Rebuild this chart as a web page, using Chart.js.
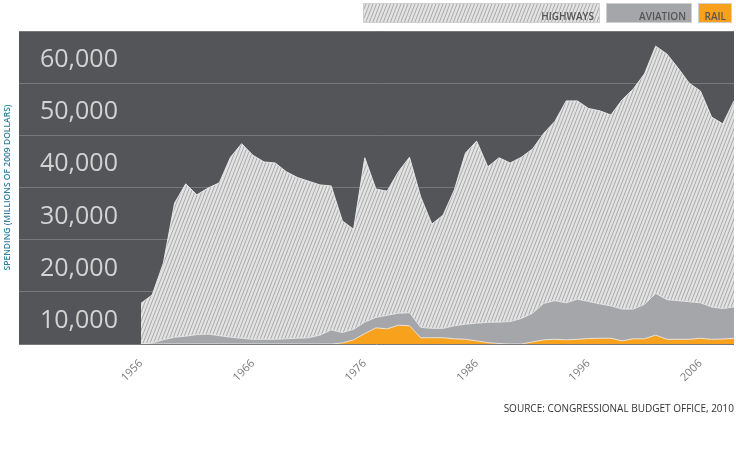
<!DOCTYPE html>
<html>
<head>
<meta charset="utf-8">
<script src="https://cdn.jsdelivr.net/npm/chart.js@4"></script>
<style>
  html, body { margin: 0; padding: 0; background: #fff; }
  #wrap { width: 736px; height: 463px; }
</style>
</head>
<body>
<div id="wrap"><canvas id="spendingChart" width="736" height="463"></canvas></div>
<script>
// years on the x axis
const years = [
  1956, 1957, 1958, 1959, 1960, 1961, 1962, 1963, 1964, 1965,
  1966, 1967, 1968, 1969, 1970, 1971, 1972, 1973, 1974, 1975,
  1976, 1977, 1978, 1979, 1980, 1981, 1982, 1983, 1984, 1985,
  1986, 1987, 1988, 1989, 1990, 1991, 1992, 1993, 1994, 1995,
  1996, 1997, 1998, 1999, 2000, 2001, 2002, 2003, 2004, 2005,
  2006, 2007, 2008, 2009
];

// spending, millions of 2009 dollars
const rail = [
  0, 0, 0, 0, 0, 0, 0, 0, 0, 0,
  0, 0, 0, 0, 0, 0, 0, 0, 200, 800,
  2000, 3100, 2900, 3600, 3500, 1200, 1200, 1200, 1000, 900,
  600, 250, 100, 0, 0, 400, 800, 900, 800, 900,
  1050, 1100, 1100, 600, 1000, 1000, 1700, 900, 900, 900,
  1100, 900, 950, 1100
];
const aviation = [
  0, 200, 800, 1300, 1500, 1800, 1900, 1600, 1300, 1100,
  900, 900, 900, 1000, 1100, 1200, 1700, 2700, 2000, 2000,
  2200, 2000, 2600, 2300, 2500, 2000, 1800, 1800, 2500, 2900,
  3400, 3900, 4100, 4300, 4900, 5500, 7000, 7400, 7100, 7700,
  7100, 6600, 6200, 6100, 5700, 6600, 8000, 7600, 7400, 7200,
  6800, 6200, 5850, 6000
];
const highways = [
  7800, 9200, 14700, 25700, 29200, 26800, 28000, 29300, 34500, 37300,
  35300, 34000, 33800, 32000, 30800, 30000, 28800, 27600, 21400, 19200,
  31500, 24600, 23800, 27100, 29800, 25000, 20000, 21700, 26000, 32800,
  34900, 29800, 31500, 30400, 30900, 31500, 32600, 34400, 38700, 38000,
  37000, 37000, 36600, 40100, 42200, 44200, 47400, 47100, 44600, 41900,
  40600, 36400, 35400, 39500
];

const seriesNames = ["RAIL", "AVIATION", "HIGHWAYS"];
const xTickYears = [1956, 1966, 1976, 1986, 1996, 2006];
const yTickValues = [0, 10000, 20000, 30000, 40000, 50000, 60000];
const yAxisTitle = "SPENDING (MILLIONS OF 2009 DOLLARS)";
const sourceNote = "SOURCE: CONGRESSIONAL BUDGET OFFICE, 2010";

const canvas = document.getElementById("spendingChart");
const ctx = canvas.getContext("2d");

function makeHatch() {
  const tile = document.createElement("canvas");
  tile.width = 7;
  tile.height = 18;
  const g = tile.getContext("2d");
  g.fillStyle = "#e3e3e3";
  g.fillRect(0, 0, 7, 18);
  g.strokeStyle = "#a9a9a9";
  g.lineWidth = 1;
  for (let k = -2; k <= 2; k++) {
    g.beginPath();
    g.moveTo(k * 3.5, 18);
    g.lineTo(k * 3.5 + 7, 0);
    g.stroke();
  }
  return ctx.createPattern(tile, "repeat");
}
const hatch = makeHatch();

function points(values) {
  return years.map((yr, i) => ({ x: yr, y: values[i] }));
}

// dark panel behind the plot
const plotBackground = {
  id: "plotBackground",
  beforeDraw(chart) {
    const a = chart.chartArea;
    chart.ctx.save();
    chart.ctx.fillStyle = "#545559";
    chart.ctx.fillRect(a.left, a.top, a.right - a.left, a.bottom - a.top);
    chart.ctx.restore();
  }
};

// legend as filled boxes with the name inside, top right
const boxLegend = {
  id: "boxLegend",
  afterDraw(chart) {
    const c = chart.ctx;
    const widths = [34, 86, 237];
    let right = 732;
    c.save();
    chart.data.datasets.forEach((ds, i) => {
      const w = widths[i];
      const left = right - w;
      c.fillStyle = ds.backgroundColor;
      c.fillRect(left, 3, w, 20);
      c.strokeStyle = "#d0d0d0";
      c.lineWidth = 1;
      c.strokeRect(left + 0.5, 3.5, w - 1, 19);
      c.fillStyle = "#555";
      c.font = '600 10px "Open Sans"';
      c.textAlign = "right";
      c.textBaseline = "alphabetic";
      c.fillText(ds.label, right - 6, 20);
      right = left - 6;
    });
    c.restore();
  }
};

const lineEdge = "rgba(238,238,238,0.9)";

new Chart(ctx, {
  type: "line",
  data: {
    datasets: [
      {
        label: seriesNames[0],
        data: points(rail),
        backgroundColor: "#f7a11c",
        borderColor: lineEdge,
        borderWidth: 1,
        fill: "origin"
      },
      {
        label: seriesNames[1],
        data: points(aviation),
        backgroundColor: "#a4a6a9",
        borderColor: lineEdge,
        borderWidth: 1,
        fill: "-1"
      },
      {
        label: seriesNames[2],
        data: points(highways),
        backgroundColor: hatch,
        borderColor: lineEdge,
        borderWidth: 1,
        fill: "-1"
      }
    ]
  },
  options: {
    responsive: false,
    animation: false,
    devicePixelRatio: 1,
    elements: { point: { radius: 0 }, line: { tension: 0 } },
    layout: { padding: { top: 31, right: 2, left: 0, bottom: 48 } },
    scales: {
      x: {
        type: "linear",
        min: 1945.1,
        max: 2009,
        afterBuildTicks(scale) {
          scale.ticks = xTickYears.map(v => ({ value: v }));
        },
        afterFit(scale) {
          scale.height = 50;
          scale.paddingLeft = 0;
          scale.paddingRight = 0;
        },
        grid: { display: false, drawTicks: false },
        border: { display: false },
        ticks: {
          autoSkip: false,
          minRotation: 45,
          maxRotation: 45,
          padding: 13,
          color: "#777",
          font: { family: "Open Sans", size: 11 },
          callback: v => String(v)
        }
      },
      y: {
        stacked: true,
        min: 0,
        max: 60000,
        afterBuildTicks(scale) {
          scale.ticks = yTickValues.map(v => ({ value: v }));
        },
        afterFit(scale) {
          scale.width = 19;
          scale.paddingTop = 0;
          scale.paddingBottom = 0;
        },
        grid: { color: "#77787c", lineWidth: 1, drawTicks: false },
        border: { display: false },
        ticks: {
          mirror: true,
          autoSkip: false,
          padding: 21,
          labelOffset: 29,
          color: "#d3d3d3",
          font: { family: "Open Sans", size: 25 },
          callback: v => (v === 0 ? "" : v.toLocaleString("en-US"))
        },
        title: {
          display: true,
          text: yAxisTitle,
          color: "#2f7fa0",
          font: { family: "Open Sans", size: 8.5, weight: "600" },
          padding: { top: 2, bottom: 0 }
        }
      }
    },
    plugins: {
      legend: { display: false },
      tooltip: { enabled: false },
      title: {
        display: true,
        position: "bottom",
        align: "end",
        text: sourceNote,
        color: "#333",
        font: { family: "Open Sans", size: 10, weight: "normal" },
        padding: { top: 9, bottom: 0 }
      }
    }
  },
  plugins: [plotBackground, boxLegend]
});
</script>
</body>
</html>
